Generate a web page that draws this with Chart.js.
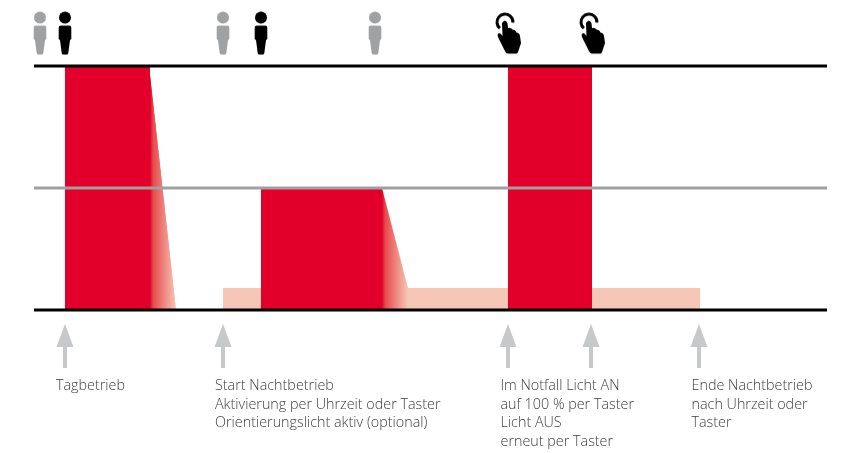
<!DOCTYPE html>
<html>
<head>
<meta charset="utf-8">
<style>
    html, body { margin: 0; padding: 0; background: #fff; }
    canvas { display: block; }
</style>
<script src="https://cdn.jsdelivr.net/npm/chart.js@4/dist/chart.umd.min.js"></script>
</head>
<body>
<canvas id="lightChart" width="848" height="453"></canvas>
<script>
// levels in %, x in picture units
const levelTop = 100;
const levelMid = 50;
const levelZero = 0;
const lineX = [34, 827];

const dayBarX = [65, 65, 150, 150];
const dayBarY = [0, 100, 100, 0];
const dayFadeX = [150, 149, 176];
const dayFadeY = [0, 100, 0];

const orientX = [223, 223, 700, 700];
const orientY = [0, 9, 9, 0];

const nightBarX = [261, 261, 382, 382];
const nightBarY = [0, 50, 50, 0];
const nightFadeX = [382, 382, 408, 408];
const nightFadeY = [0, 50, 9, 0];

const alarmBarX = [508, 508, 592, 592];
const alarmBarY = [0, 100, 100, 0];

const personX = [40, 65, 223, 261, 375];
const personColor = ['#a0a1a3', '#000000', '#a0a1a3', '#000000', '#a0a1a3'];
const handX = [508, 592];
const arrowX = [65, 223, 508, 591, 699];

const notes = [
    { x: 56, lines: ['Tagbetrieb'] },
    { x: 215, lines: ['Start Nachtbetrieb', 'Aktivierung per Uhrzeit oder Taster', 'Orientierungslicht aktiv (optional)'] },
    { x: 500.5, lines: ['Im Notfall Licht AN', 'auf 100 % per Taster', 'Licht AUS', 'erneut per Taster'] },
    { x: 691.5, lines: ['Ende Nachtbetrieb', 'nach Uhrzeit oder', 'Taster'] }
];

const red = '#e2002a';
const peach = '#f6c7b6';

function toPoints(xs, ys) {
    return xs.map(function (x, i) { return { x: x, y: ys[i] }; });
}

function fadeColor(from, to) {
    return function (context) {
        const chart = context.chart;
        if (!chart.chartArea) {
            return red;
        }
        const xScale = chart.scales.x;
        const g = chart.ctx.createLinearGradient(xScale.getPixelForValue(from), 0, xScale.getPixelForValue(to), 0);
        g.addColorStop(0, red);
        g.addColorStop(0.12, '#e64a4c');
        g.addColorStop(1, peach);
        return g;
    };
}

function area(xs, ys, color) {
    return {
        data: toPoints(xs, ys),
        borderWidth: 0,
        backgroundColor: color,
        fill: 'origin',
        pointRadius: 0,
        tension: 0
    };
}

function rule(y, color) {
    return {
        data: toPoints(lineX, [y, y]),
        borderColor: color,
        borderWidth: 3,
        pointRadius: 0,
        fill: false
    };
}

function makeIcon(w, h, draw) {
    const c = document.createElement('canvas');
    c.width = w;
    c.height = h;
    draw(c.getContext('2d'));
    return c;
}

function personIcon(color) {
    return makeIcon(16, 44, function (ctx) {
        ctx.fillStyle = color;
        ctx.beginPath();
        ctx.arc(8, 6.5, 6, 0, Math.PI * 2);
        ctx.fill();
        ctx.beginPath();
        ctx.moveTo(3.5, 14.5);
        ctx.lineTo(12.5, 14.5);
        ctx.quadraticCurveTo(14.3, 14.5, 14.3, 16.5);
        ctx.lineTo(14.3, 28);
        ctx.lineTo(13, 29);
        ctx.lineTo(11.3, 42);
        ctx.quadraticCurveTo(11, 43.5, 9.5, 43.5);
        ctx.lineTo(6.5, 43.5);
        ctx.quadraticCurveTo(5, 43.5, 4.7, 42);
        ctx.lineTo(3, 29);
        ctx.lineTo(1.7, 28);
        ctx.lineTo(1.7, 16.5);
        ctx.quadraticCurveTo(1.7, 14.5, 3.5, 14.5);
        ctx.fill();
    });
}

function handIcon() {
    return makeIcon(34, 46, function (ctx) {
        ctx.strokeStyle = '#000';
        ctx.lineWidth = 3;
        ctx.beginPath();
        ctx.arc(14, 12, 8, Math.PI * 0.72, Math.PI * 2.02);
        ctx.stroke();
        ctx.fillStyle = '#000';
        ctx.beginPath();
        ctx.moveTo(11, 13);
        ctx.quadraticCurveTo(14, 8, 16.5, 13);
        ctx.lineTo(17, 18);
        ctx.quadraticCurveTo(20, 17, 21.5, 19.5);
        ctx.quadraticCurveTo(24.5, 19.5, 25.5, 22.5);
        ctx.quadraticCurveTo(28.5, 22.5, 29, 26);
        ctx.lineTo(30, 33);
        ctx.lineTo(27, 42);
        ctx.quadraticCurveTo(26.5, 43.5, 25, 43.5);
        ctx.lineTo(17, 43.5);
        ctx.quadraticCurveTo(15, 43.5, 14, 41);
        ctx.lineTo(7.5, 28);
        ctx.quadraticCurveTo(5.5, 24, 8, 23);
        ctx.quadraticCurveTo(10, 23, 11.5, 26);
        ctx.closePath();
        ctx.fill();
    });
}

function arrowIcon() {
    return makeIcon(18, 44, function (ctx) {
        ctx.fillStyle = '#c6c8ca';
        ctx.beginPath();
        ctx.moveTo(9, 0);
        ctx.lineTo(17.5, 23);
        ctx.lineTo(11, 23);
        ctx.lineTo(11, 44);
        ctx.lineTo(7, 44);
        ctx.lineTo(7, 23);
        ctx.lineTo(0.5, 23);
        ctx.closePath();
        ctx.fill();
    });
}

const iconLevel = 113.5;
const arrowLevel = -14.75;

// draws the text below the arrows, anchored through the scales
const notesPlugin = {
    id: 'notes',
    afterDraw: function (chart) {
        const ctx = chart.ctx;
        const xs = chart.scales.x;
        ctx.save();
        ctx.font = '300 14.35px "Open Sans"';
        ctx.fillStyle = '#404040';
        ctx.textBaseline = 'middle';
        notes.forEach(function (note) {
            note.lines.forEach(function (line, i) {
                ctx.fillText(line, xs.getPixelForValue(note.x), 386 + i * 18.7);
            });
        });
        ctx.restore();
    }
};

const person = personColor.map(personIcon);
const hand = handIcon();
const arrow = arrowIcon();

new Chart(document.getElementById('lightChart'), {
    type: 'line',
    data: {
        datasets: [
            {
                data: personX.map(function (x) { return { x: x, y: iconLevel }; }),
                showLine: false,
                pointStyle: person,
                pointRadius: 10
            },
            {
                data: handX.map(function (x) { return { x: x, y: iconLevel }; }),
                showLine: false,
                pointStyle: hand,
                pointRadius: 10
            },
            {
                data: arrowX.map(function (x) { return { x: x, y: arrowLevel }; }),
                showLine: false,
                pointStyle: arrow,
                pointRadius: 10
            },
            rule(levelTop, '#000000'),
            rule(levelMid, '#a0a0a0'),
            rule(levelZero, '#000000'),
            area(dayBarX, dayBarY, red),
            area(nightBarX, nightBarY, red),
            area(alarmBarX, alarmBarY, red),
            area(dayFadeX, dayFadeY, fadeColor(150, 176)),
            area(nightFadeX, nightFadeY, fadeColor(382, 408)),
            area(orientX, orientY, peach)
        ]
    },
    options: {
        responsive: false,
        animation: false,
        layout: { padding: 0, autoPadding: false },
        plugins: {
            legend: { display: false },
            tooltip: { enabled: false }
        },
        scales: {
            x: { type: 'linear', min: 0, max: 848, display: false },
            y: { type: 'linear', min: -58.6, max: 127.05, display: false }
        }
    },
    plugins: [notesPlugin]
});
</script>
</body>
</html>
